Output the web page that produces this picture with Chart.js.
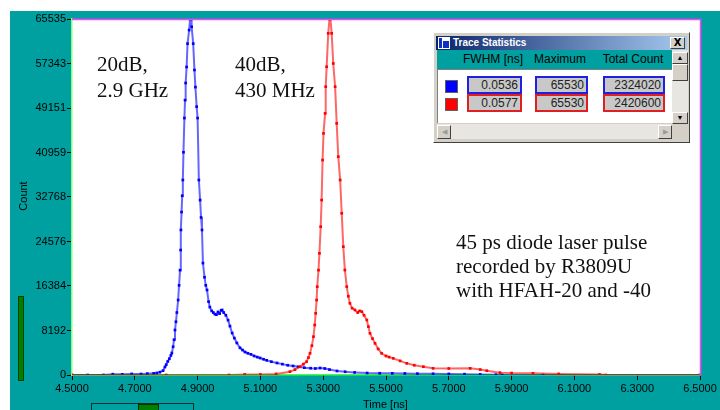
<!DOCTYPE html>
<html>
<head>
<meta charset="utf-8">
<script src="https://cdn.jsdelivr.net/npm/chart.js@4"></script>
<style>
  html, body { margin:0; padding:0; background:#fff; width:720px; height:410px; overflow:hidden; }
  body { position:relative; font-family:"Liberation Sans", Arial, sans-serif; }
  #panel { position:absolute; left:10px; top:11px; width:710px; height:399px; background:#00a0a0; }
  #c { position:absolute; left:0; top:0; }
  .ann { position:absolute; font-family:"Liberation Serif","Times New Roman",serif; font-size:21px; color:#111; white-space:nowrap; }
  .ylab { position:absolute; font-size:11px; color:#000; transform:rotate(-90deg); transform-origin:center; }
  #win { position:absolute; left:433px; top:32px; width:257px; height:111px; background:#d4d0c8;
         box-sizing:border-box; border:1px solid; border-color:#fff #404040 #404040 #fff; }
  #title { position:absolute; left:2px; top:3px; width:251px; height:14px;
           background:linear-gradient(to right,#0a246a,#a6caf0); }
  #title span { position:absolute; left:17px; top:0px; font:bold 10px "Liberation Sans", sans-serif; color:#fff; line-height:14px; }
  #icon { position:absolute; left:2px; top:1px; width:12px; height:12px; background:#fff; }
  #icon i { position:absolute; display:block; background:#1030c0; }
  #close { position:absolute; right:2px; top:1px; width:15px; height:12px; background:#d4d0c8; box-sizing:border-box;
           border:1px solid; border-color:#fff #404040 #404040 #fff; font:bold 10px "DejaVu Sans",sans-serif; text-align:center; line-height:10px; color:#000; }
  #hdr { position:absolute; left:3px; top:17px; width:236px; height:19px; background:#00a0a0; font-size:12px; color:#000; }
  #hdr span { position:absolute; top:2px; transform:translateX(-50%); white-space:nowrap; }
  #body { position:absolute; left:3px; top:36px; width:236px; height:54px; background:#fff; box-sizing:border-box;
          border-top:1px solid #808080; border-left:1px solid #808080; }
  .sq { position:absolute; left:7px; width:13px; height:13px; box-sizing:border-box; border:1px solid #606060; }
  .box { position:absolute; height:18px; box-sizing:border-box; border:2px solid; background:#c8c8c8; font-size:12px;
         text-align:right; padding-right:2px; line-height:14px; color:#222; }
  #vs { position:absolute; left:238px; top:17px; width:16px; height:74px; background:#e8e6e0; }
  .btn { position:absolute; box-sizing:border-box; background:#d4d0c8; border:1px solid; border-color:#fff #404040 #404040 #fff;
         font-size:7px; text-align:center; color:#000; }
  #hs { position:absolute; left:3px; top:91px; width:235px; height:15px; background:#e8e6e0; }
  #greenbar { position:absolute; left:18px; top:296px; width:6px; height:85px; background:#008000; border:1px solid #004000; box-sizing:border-box; }
  #scroll { position:absolute; left:91px; top:403px; width:103px; height:10px; background:#00a0a0; border:1px solid #003030; box-sizing:border-box; }
  #thumb { position:absolute; left:46px; top:0; width:21px; height:10px; background:#008000; border:1px solid #003000; box-sizing:border-box; }
</style>
</head>
<body>
<div id="panel"><canvas id="c" width="710" height="399"></canvas></div>

<div class="ann" style="left:97px; top:51px; line-height:26px;">20dB,<br>2.9 GHz</div>
<div class="ann" style="left:235px; top:51px; line-height:26px;">40dB,<br>430 MHz</div>
<div class="ann" style="left:456px; top:230px; line-height:24px;">45 ps diode laser pulse<br>recorded by R3809U<br>with HFAH-20 and -40</div>

<div class="ylab" style="left:8px; top:190px;">Count</div>
<div style="position:absolute; left:363px; top:398px; font-size:11px; color:#000;">Time [ns]</div>
<div id="greenbar"></div>
<div id="scroll"><div id="thumb"></div></div>

<div id="win">
  <div id="title">
    <div id="icon"><i style="left:1px;top:1px;width:3px;height:10px;"></i><i style="left:5px;top:4px;width:6px;height:7px;"></i></div>
    <span>Trace Statistics</span>
    <div id="close">X</div>
  </div>
  <div id="hdr">
    <span style="left:56px;">FWHM [ns]</span>
    <span style="left:123px;">Maximum</span>
    <span style="left:196px;">Total Count</span>
  </div>
  <div id="body">
    <div class="sq" style="top:10px; background:#0000ff;"></div>
    <div class="sq" style="top:28px; background:#ff0000;"></div>
    <div class="box" id="b1" style="left:29px; top:6px; width:55px; border-color:#2020e0;"></div>
    <div class="box" id="b2" style="left:97px; top:6px; width:53px; border-color:#2020e0;"></div>
    <div class="box" id="b3" style="left:165px; top:6px; width:62px; border-color:#2020e0;"></div>
    <div class="box" id="b4" style="left:29px; top:24px; width:55px; border-color:#e02020;"></div>
    <div class="box" id="b5" style="left:97px; top:24px; width:53px; border-color:#e02020;"></div>
    <div class="box" id="b6" style="left:165px; top:24px; width:62px; border-color:#e02020;"></div>
  </div>
  <div id="vs">
    <div class="btn" style="left:0;top:2px;width:16px;height:12px;line-height:10px;">&#9650;</div>
    <div class="btn" style="left:0;top:14px;width:16px;height:17px;"></div>
    <div class="btn" style="left:0;top:62px;width:16px;height:12px;line-height:10px;">&#9660;</div>
  </div>
  <div id="hs">
    <div class="btn" style="left:0;top:1px;width:14px;height:14px;line-height:12px;color:#999;">&#9664;</div>
    <div class="btn" style="left:221px;top:1px;width:14px;height:14px;line-height:12px;color:#999;">&#9654;</div>
  </div>
</div>

<script>
// ---- data ----
const blueX = [4.50,4.55,4.60,4.63,4.66,4.69,4.72,4.74,4.76,4.77,4.78,4.79,4.796,4.80,4.805,4.81,4.815,4.818,4.822,4.825,4.828,4.831,4.834,4.838,4.841,4.844,4.846,4.847,4.849,4.851,4.853,4.855,4.858,4.860,4.862,4.865,4.868,4.873,4.876,4.879,4.881,4.886,4.890,4.893,4.897,4.900,4.904,4.908,4.911,4.914,4.917,4.922,4.926,4.930,4.935,4.939,4.945,4.950,4.955,4.960,4.965,4.970,4.975,4.978,4.983,4.990,4.997,5.003,5.010,5.017,5.025,5.035,5.043,5.051,5.060,5.070,5.080,5.090,5.099,5.110,5.120,5.135,5.153,5.170,5.187,5.204,5.220,5.240,5.260,5.275,5.290,5.305,5.320,5.344,5.370,5.400,5.440,5.480,5.520,5.560,5.600,5.650,5.700,5.750,5.800,5.850,5.870,6.000,6.500];
const blueY = [0,0,0,150,120,200,180,250,300,370,520,800,1470,1900,2500,3000,3600,4050,5200,6500,8280,9800,11500,13800,16500,19300,23000,26700,30000,33000,35900,41000,47300,50600,53750,56700,61000,63500,65530,65530,64100,61000,56150,53000,49400,47300,35900,32200,29000,26700,20600,18000,16500,15650,13500,12500,11800,11500,11200,11100,11600,11300,11900,11970,11500,11000,10100,9000,7730,6800,5900,5000,4600,4230,4000,3800,3500,3300,3130,2900,2700,2450,2210,2000,1800,1660,1500,1350,1250,1200,1290,1200,1000,740,600,480,370,320,300,280,250,220,200,150,100,60,0,0,0];

const redX = [4.50,4.80,5.00,5.05,5.10,5.15,5.194,5.210,5.226,5.237,5.247,5.253,5.258,5.264,5.269,5.273,5.276,5.279,5.281,5.285,5.288,5.292,5.295,5.298,5.301,5.306,5.308,5.311,5.316,5.320,5.323,5.327,5.332,5.338,5.343,5.348,5.354,5.359,5.364,5.369,5.375,5.380,5.385,5.392,5.401,5.410,5.416,5.423,5.430,5.439,5.444,5.449,5.457,5.465,5.475,5.486,5.500,5.510,5.523,5.545,5.566,5.590,5.619,5.650,5.700,5.768,5.800,5.821,5.863,5.900,5.968,6.050,6.180,6.200,6.500];
const redY = [0,0,0,100,100,200,610,1000,1530,2000,2450,3200,3990,5400,7050,9200,11350,13800,16250,19300,22400,27300,32200,39570,44480,48160,53070,56740,62900,65530,65530,62900,57350,53070,46320,40190,35900,29770,23630,19330,16260,14500,13200,12300,11970,11500,11800,11660,11000,10120,8900,7670,6700,5830,4800,3990,3500,3300,3070,2600,2150,1800,1530,1230,1200,1230,1000,790,430,350,300,200,100,0,0];

const xTicks = [4.5,4.7,4.9,5.1,5.3,5.5,5.7,5.9,6.1,6.3,6.5];
const yTicks = [0,8192,16384,24576,32768,40959,49151,57343,65535];

const statFWHM = ["0.0536","0.0577"];
const statMax = ["65530","65530"];
const statTotal = ["2324020","2420600"];

document.getElementById('b1').textContent = statFWHM[0];
document.getElementById('b2').textContent = statMax[0];
document.getElementById('b3').textContent = statTotal[0];
document.getElementById('b4').textContent = statFWHM[1];
document.getElementById('b5').textContent = statMax[1];
document.getElementById('b6').textContent = statTotal[1];

const pts = (xs, ys) => xs.map((x,i)=>({x:x, y:ys[i]}));

const framePlugin = {
  id:'frame',
  beforeDraw(chart){
    const {ctx, chartArea:a} = chart;
    ctx.save(); ctx.fillStyle='#fff';
    ctx.fillRect(a.left, a.top, a.right-a.left, a.bottom-a.top);
    ctx.restore();
  },
  afterDraw(chart){
    const {ctx, chartArea:a} = chart;
    ctx.save(); ctx.strokeStyle='#ff40ff'; ctx.lineWidth=1.5;
    ctx.beginPath(); ctx.moveTo(a.left, a.top+0.5); ctx.lineTo(a.right+0.5, a.top+0.5); ctx.lineTo(a.right+0.5, a.bottom); ctx.stroke();
    ctx.restore();
  }
};

new Chart(document.getElementById('c'), {
  type:'line',
  data:{ datasets:[
    { label:'red', data:pts(redX, redY), order:1, borderColor:'rgba(255,0,0,0.6)', borderWidth:2,
      pointBackgroundColor:'#ff0000', pointBorderWidth:0, pointRadius:1.9, pointStyle:'rect', tension:0 },
    { label:'blue', data:pts(blueX, blueY), order:2, borderColor:'rgba(0,0,255,0.6)', borderWidth:2,
      pointBackgroundColor:'#0000ff', pointBorderWidth:0, pointRadius:1.9, pointStyle:'rect', tension:0 }
  ]},
  options:{
    responsive:false, animation:false, devicePixelRatio:1,
    layout:{ padding:{ left:0, top:8, right:20, bottom:0 } },
    plugins:{ legend:{display:false}, tooltip:{enabled:false} },
    scales:{
      x:{ type:'linear', min:4.5, max:6.5,
          afterBuildTicks:s=>{ s.ticks = xTicks.map(v=>({value:v})); },
          afterFit:s=>{ s.height = 35; },
          ticks:{ callback:v=>Number(v).toFixed(4), color:'#000', font:{family:'Liberation Sans', size:11}, padding:2, maxRotation:0, autoSkip:false },
          grid:{ drawOnChartArea:false, drawTicks:true, tickLength:5, tickColor:'#000', color:'#000' },
          border:{ color:'#40ff40', width:1.5 } },
      y:{ type:'linear', min:0, max:65535,
          afterBuildTicks:s=>{ s.ticks = yTicks.map(v=>({value:v})); },
          afterFit:s=>{ s.width = 62; },
          ticks:{ callback:v=>String(v), color:'#000', font:{family:'Liberation Sans', size:11}, padding:1, autoSkip:false },
          grid:{ drawOnChartArea:false, drawTicks:true, tickLength:5, tickColor:'#000', color:'#000' },
          border:{ color:'#80ff80', width:1.5 } }
    }
  },
  plugins:[framePlugin]
});
</script>
</body>
</html>
